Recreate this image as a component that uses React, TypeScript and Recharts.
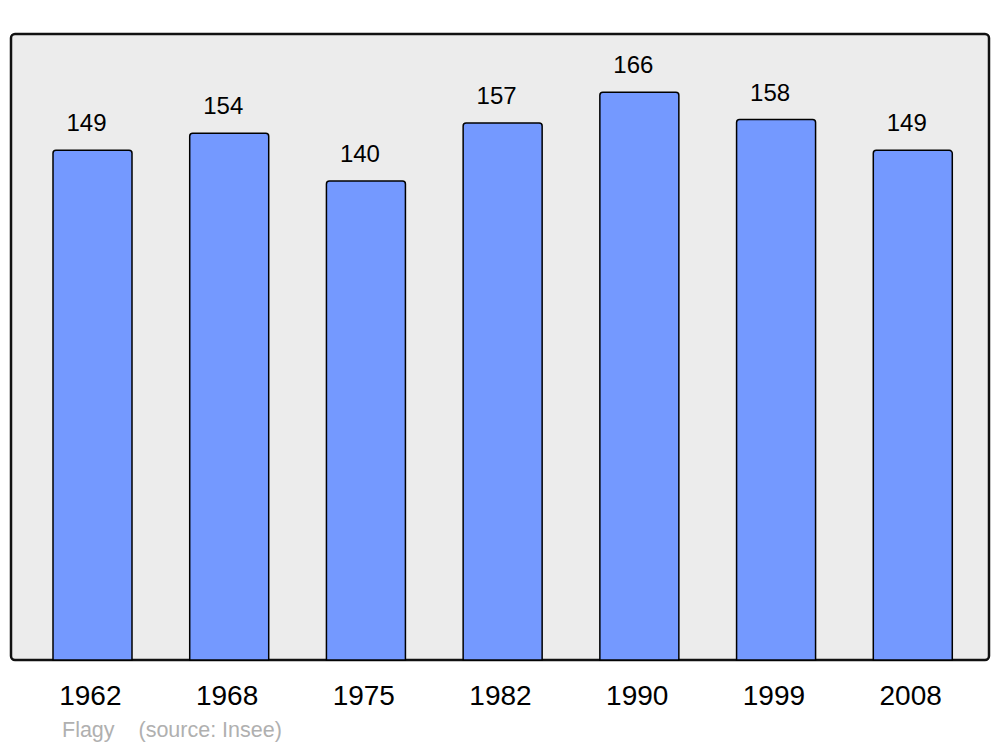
import { BarChart, Bar, XAxis, YAxis, LabelList, usePlotArea } from 'recharts'

const years = ['1962', '1968', '1975', '1982', '1990', '1999', '2008']
const population = [149, 154, 140, 157, 166, 158, 149]

const data = years.map((year, i) => ({ year, pop: population[i] }))

const FONT = '"Liberation Sans", Arial, sans-serif'

// rounded grey frame behind the bars, sized from the plot area
function Frame() {
  const area = usePlotArea()
  if (!area) return null
  return (
    <rect
      x={area.x}
      y={area.y}
      width={area.width}
      height={area.height}
      rx={4}
      ry={4}
      fill="#ececec"
      stroke="#111"
      strokeWidth={2.5}
    />
  )
}

function ValueLabel(props: any) {
  const { x, y, width, value } = props
  return (
    <text
      x={x + width / 2 - 6}
      y={y - 19}
      textAnchor="middle"
      fontSize={24}
      fontFamily={FONT}
      fill="#000"
    >
      {value}
    </text>
  )
}

function YearTick(props: any) {
  const { x, y, payload } = props
  return (
    <text x={x - 2} y={y + 20} textAnchor="middle" fontSize={28} fontFamily={FONT} fill="#000">
      {payload.value}
    </text>
  )
}

export default function App() {
  return (
    <div style={{ position: 'absolute', left: 0, top: 0, width: 1000, height: 747, background: '#fff' }}>
      <BarChart
        width={1000}
        height={747}
        data={data}
        margin={{ top: 34, right: 11, left: 11, bottom: 37 }}
      >
        <Frame />
        <XAxis
          dataKey="year"
          height={50}
          axisLine={false}
          tickLine={false}
          tickSize={0}
          tickMargin={25}
          padding={{ left: 13, right: 8 }}
          tick={<YearTick />}
          interval={0}
        />
        <YAxis hide domain={[0, 183]} />
        <Bar
          dataKey="pop"
          fill="#7499ff"
          stroke="#000"
          strokeWidth={1.5}
          barSize={79}
          radius={[3, 3, 0, 0]}
          isAnimationActive={false}
        >
          <LabelList dataKey="pop" content={ValueLabel} />
        </Bar>
      </BarChart>
      <div
        style={{
          position: 'absolute',
          left: 62,
          top: 718,
          fontFamily: FONT,
          fontSize: 21.5,
          lineHeight: 'normal',
          color: '#b0b0b0',
          whiteSpace: 'pre',
        }}
      >
        Flagy{'    '}(source: Insee)
      </div>
    </div>
  )
}
